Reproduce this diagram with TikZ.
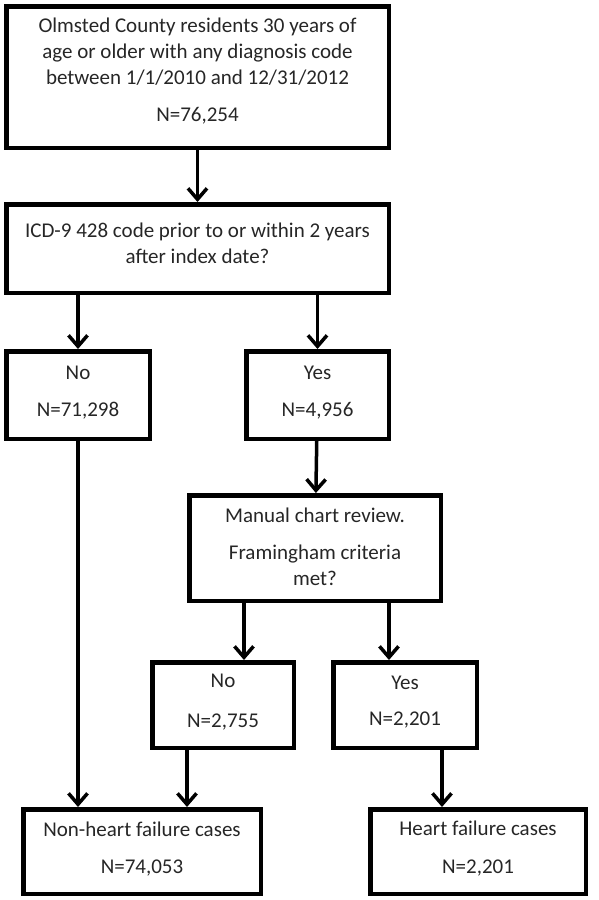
\documentclass[tikz,border=0pt]{standalone}
\usepackage{fontspec}
\setmainfont{Carlito}
\usetikzlibrary{arrows.meta}

\begin{document}
\begin{tikzpicture}[x=1pt,y=-1pt,>={Straight Barb[length=11pt,width=19pt]},line width=3.5pt,
  box/.style={draw,line width=4.5pt,align=center,inner sep=0pt,text=black!85,text depth=8pt,
    font=\fontsize{21}{26}\selectfont}]
  \useasboundingbox (0,0) rectangle (598,900);

  \node[box,minimum width=382.5pt,minimum height=141.5pt,text depth=14pt] (cohort) at (197.5,77)
    {Olmsted County residents 30 years of\\age or older with any diagnosis code\\between 1/1/2010 and 12/31/2012\\[11pt]N=76,254};
  \node[box,minimum width=382.5pt,minimum height=88.5pt,text depth=10pt]  (icd)    at (197.5,248.5)
    {ICD-9 428 code prior to or within 2 years\\after index date?};
  \node[box,minimum width=143.5pt,minimum height=87.5pt]  (icdno)  at (78,395)    {No\\[11pt]N=71,298};
  \node[box,minimum width=142.5pt,minimum height=87.5pt]  (icdyes) at (317.5,395) {Yes\\[11pt]N=4,956};
  \node[box,minimum width=251.5pt,minimum height=105.5pt,text depth=2pt] (review) at (315,548)
    {Manual chart review.\\[11pt]Framingham criteria\\met?};
  \node[box,minimum width=141.5pt,minimum height=85.5pt]  (fhno)   at (223,705)   {No\\[14pt]N=2,755};
  \node[box,minimum width=143.5pt,minimum height=85.5pt]  (fhyes)  at (405,705)   {Yes\\[10pt]N=2,201};
  \node[box,minimum width=237.5pt,minimum height=84.5pt]  (nonhf)  at (142,851.5) {Non-heart failure cases\\[11pt]N=74,053};
  \node[box,minimum width=215.5pt,minimum height=84.5pt]  (hf)     at (478,851.5) {Heart failure cases\\[12pt]N=2,201};

  \path[->]
  (cohort) edge (icd)
  (icdno.north |- icd.south) edge (icdno)
  (icdyes.north |- icd.south) edge (icdyes)
  (icdyes) edge (review)
  ([xshift=-71pt]review.south) edge ([xshift=-71pt]review.south |- fhno.north)
  ([xshift=74pt]review.south) edge ([xshift=74pt]review.south |- fhyes.north)
  (icdno) edge (icdno.south |- nonhf.north)
  ([xshift=-36pt]fhno.south) edge ([xshift=-36pt]fhno.south |- nonhf.north)
  ([xshift=37pt]fhyes.south) edge ([xshift=37pt]fhyes.south |- hf.north)
  ;
\end{tikzpicture}
\end{document}
